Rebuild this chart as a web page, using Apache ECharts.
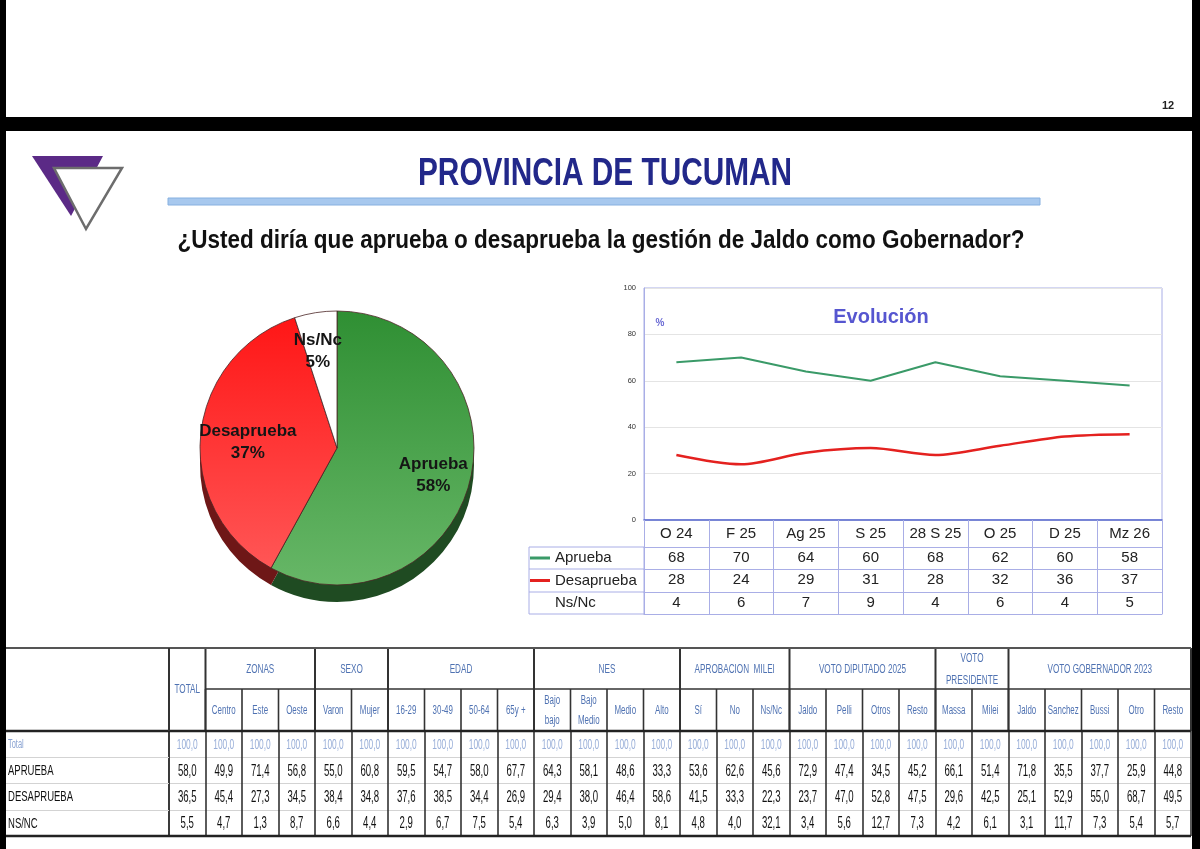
<!DOCTYPE html>
<html>
<head>
<meta charset="utf-8">
<title>Provincia de Tucuman - gestión de Jaldo</title>
<script src="https://cdn.jsdelivr.net/npm/echarts@6/dist/echarts.min.js"></script>
<style>
  html, body { margin: 0; padding: 0; background: #fff; }
  #chart-container { width: 1200px; height: 849px; }
</style>
</head>
<body>
<div id="chart-container"></div>
<script>
// ---- datos ----
const pieNames = ['Aprueba', 'Desaprueba', 'Ns/Nc'];
const pieValues = [58, 37, 5];

const periods = ['O 24', 'F 25', 'Ag 25', 'S 25', '28 S 25', 'O 25', 'D 25', 'Mz 26'];
const evoAprueba = [68, 70, 64, 60, 68, 62, 60, 58];
const evoDesaprueba = [28, 24, 29, 31, 28, 32, 36, 37];
const evoNsNc = [4, 6, 7, 9, 4, 6, 4, 5];

const groupNames = ['TOTAL', 'ZONAS', 'SEXO', 'EDAD', 'NES', 'APROBACION  MILEI', 'VOTO DIPUTADO 2025', 'VOTO\nPRESIDENTE', 'VOTO GOBERNADOR 2023'];
const groupSpans = [1, 3, 2, 4, 4, 3, 4, 2, 5];
const columnNames = ['', 'Centro', 'Este', 'Oeste', 'Varon', 'Mujer', '16-29', '30-49', '50-64', '65y +',
    'Bajo\nbajo', 'Bajo\nMedio', 'Medio', 'Alto', 'Sí', 'No', 'Ns/Nc', 'Jaldo', 'Pelli', 'Otros', 'Resto',
    'Massa', 'Milei', 'Jaldo', 'Sanchez', 'Bussi', 'Otro', 'Resto'];
const rowNames = ['Total', 'APRUEBA', 'DESAPRUEBA', 'NS/NC'];
const totalRow = [100.0, 100.0, 100.0, 100.0, 100.0, 100.0, 100.0, 100.0, 100.0, 100.0, 100.0, 100.0, 100.0, 100.0,
    100.0, 100.0, 100.0, 100.0, 100.0, 100.0, 100.0, 100.0, 100.0, 100.0, 100.0, 100.0, 100.0, 100.0];
const apruebaRow = [58.0, 49.9, 71.4, 56.8, 55.0, 60.8, 59.5, 54.7, 58.0, 67.7, 64.3, 58.1, 48.6, 33.3,
    53.6, 62.6, 45.6, 72.9, 47.4, 34.5, 45.2, 66.1, 51.4, 71.8, 35.5, 37.7, 25.9, 44.8];
const desapruebaRow = [36.5, 45.4, 27.3, 34.5, 38.4, 34.8, 37.6, 38.5, 34.4, 26.9, 29.4, 38.0, 46.4, 58.6,
    41.5, 33.3, 22.3, 23.7, 47.0, 52.8, 47.5, 29.6, 42.5, 25.1, 52.9, 55.0, 68.7, 49.5];
const nsncRow = [5.5, 4.7, 1.3, 8.7, 6.6, 4.4, 2.9, 6.7, 7.5, 5.4, 6.3, 3.9, 5.0, 8.1,
    4.8, 4.0, 32.1, 3.4, 5.6, 12.7, 7.3, 4.2, 6.1, 3.1, 11.7, 7.3, 5.4, 5.7];

// ---- helpers ----
const FONT = '"Liberation Sans", Arial, sans-serif';
const measureCtx = document.createElement('canvas').getContext('2d');
const fitScale = (text, size, width) => {
    measureCtx.font = `bold ${size}px "Liberation Sans"`;
    return width / measureCtx.measureText(text).width;
};
const fmt = v => v.toFixed(1).replace('.', ',');

// posicion de la tabla cruzada (px)
const TABLE = { left: 169, right: 1191, headTop: 648, headMid: 689, bodyTop: 731, bottom: 836, labelLeft: 6 };
const TABLE_LINE = '#333';
const HEAD_COLOR = '#4f72b2';
const EVO_LINE = '#a9aee6';

const groupStarts = groupSpans.map((s, i) => groupSpans.slice(0, i).reduce((a, b) => a + b, 0));
const tableRows = [totalRow, apruebaRow, desapruebaRow, nsncRow];
const cellData = [];
tableRows.forEach((row, r) => row.forEach((v, c) => cellData.push([c, r, v])));

const renderCell = (params, api) => {
    const r = api.value(1);
    const p = api.coord([api.value(0), r]);
    const isTotal = r === 0;
    return {
        type: 'text', x: p[0], y: p[1] + 1, scaleX: 0.6,
        style: {
            text: fmt(api.value(2)), align: 'center', verticalAlign: 'middle',
            fontFamily: FONT, fontSize: isTotal ? 14 : 16,
            fill: isTotal ? '#98aed8' : '#111'
        }
    };
};

const renderSubHeader = (params, api) => {
    const p = api.coord([api.value(0), 0]);
    const cw = api.size([1, 0])[0];
    return {
        type: 'group',
        children: [
            {
                type: 'text', x: p[0], y: (TABLE.headMid + TABLE.bodyTop) / 2 + 1, scaleX: 0.66,
                style: {
                    text: columnNames[params.dataIndex], align: 'center', verticalAlign: 'middle',
                    fontFamily: FONT, fontSize: 12, lineHeight: 20, fill: HEAD_COLOR
                }
            },
            {
                type: 'line',
                shape: { x1: p[0] + cw / 2, y1: TABLE.headMid, x2: p[0] + cw / 2, y2: TABLE.bodyTop },
                style: { stroke: TABLE_LINE, lineWidth: 1.6 }
            }
        ]
    };
};

const renderGroup = (params, api) => {
    const start = api.value(0);
    const span = api.value(2);
    const cw = api.size([1, 0])[0];
    const x0 = api.coord([start, 0])[0] - cw / 2;
    const x1 = x0 + cw * span;
    const whole = span === 1; // TOTAL ocupa las dos filas del encabezado
    const children = [
        {
            type: 'text', x: (x0 + x1) / 2,
            y: whole ? (TABLE.headTop + TABLE.bodyTop) / 2 : (TABLE.headTop + TABLE.headMid) / 2 + 1,
            scaleX: 0.68,
            style: {
                text: groupNames[params.dataIndex], align: 'center', verticalAlign: 'middle',
                fontFamily: FONT, fontSize: 12, lineHeight: 22, fill: HEAD_COLOR
            }
        },
        {
            type: 'line',
            shape: { x1: x1, y1: TABLE.headTop, x2: x1, y2: TABLE.bodyTop },
            style: { stroke: TABLE_LINE, lineWidth: 2 }
        }
    ];
    if (!whole) {
        children.push({
            type: 'line',
            shape: { x1: x0, y1: TABLE.headMid, x2: x1, y2: TABLE.headMid },
            style: { stroke: TABLE_LINE, lineWidth: 1.6 }
        });
    }
    return { type: 'group', children };
};

const renderRowLabel = (params, api) => {
    const r = api.value(1);
    const y = api.coord([0, r])[1];
    const isTotal = r === 0;
    return {
        type: 'text', x: TABLE.labelLeft + 2, y: y + 1, scaleX: isTotal ? 0.62 : 0.68,
        style: {
            text: rowNames[params.dataIndex], align: 'left', verticalAlign: 'middle',
            fontFamily: FONT, fontSize: isTotal ? 12 : 14,
            fill: isTotal ? '#8aa3d2' : '#111'
        }
    };
};

// filas de la tabla de datos del grafico de evolucion
const rowAxis = (offset, values) => ({
    gridIndex: 0, type: 'category', position: 'bottom', offset: offset, data: periods,
    axisLine: { onZero: false, lineStyle: { color: EVO_LINE, width: 1 } },
    axisTick: { show: false },
    axisLabel: {
        show: !!values, interval: 0, margin: 11, verticalAlign: 'middle',
        fontFamily: FONT, fontSize: 15, color: '#222',
        formatter: (v, i) => values ? String(values[i]) : ''
    }
});

const titleScale = fitScale('PROVINCIA DE TUCUMAN', 38, 374);
const questionText = '¿Usted diría que aprueba o desaprueba la gestión de Jaldo como Gobernador?';
const questionScale = fitScale(questionText, 25, 847);

const chart = echarts.init(document.getElementById('chart-container'));

const option = {
    animation: false,
    backgroundColor: '#fff',
    grid: [
        { left: 644, top: 288, width: 518, height: 232, show: true, borderColor: EVO_LINE, borderWidth: 1 },
        { left: TABLE.left, top: TABLE.bodyTop, width: TABLE.right - TABLE.left, height: TABLE.bottom - TABLE.bodyTop }
    ],
    legend: {
        orient: 'vertical', left: 530, top: 549, padding: 0,
        itemWidth: 20, itemHeight: 3, itemGap: 4.5, selectedMode: false,
        textStyle: { fontFamily: FONT, fontSize: 15, color: '#222', lineHeight: 18 },
        data: [
            { name: 'Aprueba', icon: 'rect' },
            { name: 'Desaprueba', icon: 'rect' },
            { name: 'Ns/Nc', icon: 'none' }
        ]
    },
    xAxis: [
        {
            gridIndex: 0, type: 'category', data: periods, boundaryGap: true,
            axisLine: { onZero: false, lineStyle: { color: '#5567d0', width: 1.5 } },
            axisTick: { show: true, interval: 0, length: 94, lineStyle: { color: EVO_LINE } },
            axisLabel: { interval: 0, margin: 14, verticalAlign: 'middle', fontFamily: FONT, fontSize: 15, color: '#222' }
        },
        rowAxis(27, evoAprueba),
        rowAxis(49, evoDesaprueba),
        rowAxis(72, evoNsNc),
        rowAxis(94, null),
        {
            gridIndex: 1, type: 'category', position: 'top', data: columnNames,
            axisLine: { show: false }, axisTick: { show: false }, axisLabel: { show: false },
            splitLine: { show: true, interval: 0, lineStyle: { color: TABLE_LINE, width: 1.6 } }
        }
    ],
    yAxis: [
        {
            gridIndex: 0, type: 'value', min: 0, max: 100, interval: 20,
            axisLine: { show: true, lineStyle: { color: EVO_LINE } },
            axisTick: { show: false },
            axisLabel: { fontFamily: FONT, fontSize: 7.5, color: '#333', margin: 8 },
            splitLine: { lineStyle: { color: '#e4e4e4' } }
        },
        {
            gridIndex: 1, type: 'category', data: rowNames, inverse: true,
            axisLine: { show: true, lineStyle: { color: TABLE_LINE, width: 1.6 } },
            axisTick: { show: true, interval: 0, length: TABLE.left - TABLE.labelLeft, lineStyle: { color: '#d3d3d3' } },
            axisLabel: { show: false },
            splitLine: { show: true, interval: 0, lineStyle: { color: '#d3d3d3' } }
        }
    ],
    series: [
        {
            name: 'Aprueba', type: 'line', xAxisIndex: 0, yAxisIndex: 0,
            data: evoAprueba, showSymbol: false, color: '#3a9a68',
            lineStyle: { width: 2 }
        },
        {
            name: 'Desaprueba', type: 'line', xAxisIndex: 0, yAxisIndex: 0,
            data: evoDesaprueba, showSymbol: false, smooth: 0.3, color: '#e4211f',
            lineStyle: { width: 2.5 }
        },
        // lateral oscuro del pie (efecto 3D)
        {
            name: 'pieSide', type: 'pie', center: [337, 465], radius: 137, startAngle: 90,
            silent: true, label: { show: false }, labelLine: { show: false },
            data: pieNames.map((n, i) => ({
                name: n, value: pieValues[i],
                itemStyle: { color: ['#1f4b22', '#6e1717', '#9a9a9a'][i] }
            }))
        },
        {
            name: 'pieTop', type: 'pie', center: [337, 448], radius: 137, startAngle: 90,
            silent: true,
            itemStyle: { borderColor: '#4a2424', borderWidth: 0.8 },
            label: {
                show: true, position: 'inside', formatter: '{b}\n{c}%',
                fontFamily: FONT, fontSize: 17, fontWeight: 'bold', color: '#151515', lineHeight: 22
            },
            labelLine: { show: false },
            labelLayout: params => {
                const shift = [[27, 10], [-18, 1], [-8, -26]][params.dataIndex];
                return { dx: shift[0], dy: shift[1] };
            },
            data: pieNames.map((n, i) => ({
                name: n, value: pieValues[i],
                itemStyle: {
                    color: [
                        new echarts.graphic.LinearGradient(0, 0, 0, 1, [
                            { offset: 0, color: '#2f8f33' }, { offset: 1, color: '#67b767' }
                        ]),
                        new echarts.graphic.LinearGradient(0, 0, 0, 1, [
                            { offset: 0, color: '#ff1616' }, { offset: 1, color: '#ff5656' }
                        ]),
                        '#ffffff'
                    ][i]
                }
            }))
        },
        {
            name: 'encabezadoGrupos', type: 'custom', xAxisIndex: 5, yAxisIndex: 1, silent: true,
            encode: { x: 0, y: 1 },
            data: groupStarts.map((s, i) => [s, 0, groupSpans[i]]),
            renderItem: renderGroup
        },
        {
            name: 'encabezadoColumnas', type: 'custom', xAxisIndex: 5, yAxisIndex: 1, silent: true,
            encode: { x: 0, y: 1 },
            data: columnNames.map((n, c) => [c, 0]),
            renderItem: renderSubHeader
        },
        {
            name: 'filas', type: 'custom', xAxisIndex: 5, yAxisIndex: 1, silent: true,
            encode: { x: 0, y: 1 },
            data: rowNames.map((n, r) => [0, r]),
            renderItem: renderRowLabel
        },
        {
            name: 'celdas', type: 'custom', xAxisIndex: 5, yAxisIndex: 1, silent: true,
            encode: { x: 0, y: 1 },
            data: cellData,
            renderItem: renderCell
        }
    ],
    graphic: [
        // marco negro de la captura
        { type: 'rect', shape: { x: 0, y: 0, width: 6, height: 849 }, style: { fill: '#000' }, z: 20 },
        { type: 'rect', shape: { x: 0, y: 117, width: 1200, height: 14 }, style: { fill: '#000' }, z: 20 },
        { type: 'rect', shape: { x: 1192, y: 0, width: 8, height: 849 }, style: { fill: '#000' }, z: 20 },
        {
            type: 'text', x: 1168, y: 106,
            style: { text: '12', align: 'center', verticalAlign: 'middle', fontFamily: FONT, fontSize: 11, fontWeight: 'bold', fill: '#222' }
        },
        // logo
        { type: 'polygon', shape: { points: [[32, 156], [103, 156], [71, 216]] }, style: { fill: '#5b2a86' } },
        {
            type: 'polygon', shape: { points: [[54, 168], [122, 168], [86, 229]] },
            style: { fill: '#fff', stroke: '#6d6d6d', lineWidth: 2.5 }
        },
        // titulo
        {
            type: 'text', x: 605, y: 175, scaleX: titleScale,
            style: {
                text: 'PROVINCIA DE TUCUMAN', align: 'center', verticalAlign: 'middle',
                fontFamily: FONT, fontSize: 38, fontWeight: 'bold', fill: '#22288a'
            }
        },
        {
            type: 'rect', shape: { x: 168, y: 198, width: 872, height: 7 },
            style: { fill: '#a7c8ee', stroke: '#86b0e0', lineWidth: 1 }
        },
        {
            type: 'text', x: 601, y: 241, scaleX: questionScale,
            style: {
                text: questionText, align: 'center', verticalAlign: 'middle',
                fontFamily: FONT, fontSize: 25, fontWeight: 'bold', fill: '#111'
            }
        },
        // grafico de evolucion
        {
            type: 'text', x: 881, y: 317,
            style: {
                text: 'Evolución', align: 'center', verticalAlign: 'middle',
                fontFamily: FONT, fontSize: 20, fontWeight: 'bold', fill: '#5656d0'
            }
        },
        {
            type: 'text', x: 660, y: 323,
            style: { text: '%', align: 'center', verticalAlign: 'middle', fontFamily: FONT, fontSize: 10, fontWeight: 'bold', fill: '#6a6ad4' }
        },
        {
            type: 'rect', shape: { x: 529, y: 547, width: 115, height: 67 },
            style: { fill: 'none', stroke: EVO_LINE, lineWidth: 1 }
        },
        { type: 'line', shape: { x1: 529, y1: 569, x2: 644, y2: 569 }, style: { stroke: EVO_LINE } },
        { type: 'line', shape: { x1: 529, y1: 592, x2: 644, y2: 592 }, style: { stroke: EVO_LINE } },
        // bordes gruesos de la tabla cruzada
        {
            type: 'line', z: 10, shape: { x1: TABLE.labelLeft, y1: TABLE.headTop, x2: TABLE.right, y2: TABLE.headTop },
            style: { stroke: '#555', lineWidth: 2 }
        },
        {
            type: 'line', z: 10, shape: { x1: TABLE.labelLeft, y1: TABLE.bodyTop, x2: TABLE.right, y2: TABLE.bodyTop },
            style: { stroke: '#222', lineWidth: 2.5 }
        },
        {
            type: 'line', z: 10, shape: { x1: TABLE.labelLeft, y1: TABLE.bottom, x2: TABLE.right, y2: TABLE.bottom },
            style: { stroke: '#222', lineWidth: 2.5 }
        },
        {
            type: 'line', z: 10, shape: { x1: TABLE.left, y1: TABLE.headTop, x2: TABLE.left, y2: TABLE.bodyTop },
            style: { stroke: TABLE_LINE, lineWidth: 2 }
        }
    ]
};

chart.setOption(option);
</script>
</body>
</html>
